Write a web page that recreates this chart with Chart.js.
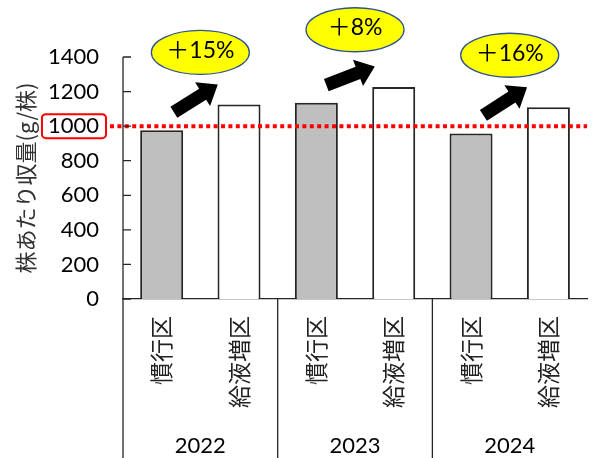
<!DOCTYPE html>
<html lang="ja">
<head>
<meta charset="utf-8">
<script src="https://cdn.jsdelivr.net/npm/chart.js@4/dist/chart.umd.min.js"></script>
<style>
  html, body { margin: 0; padding: 0; background: #fff; }
  #wrap { width: 593px; height: 458px; }
</style>
</head>
<body>
<div id="wrap"><canvas id="yieldChart" width="593" height="458"></canvas></div>
<script>
// 株あたり収量: 慣行区 vs 給液増区 (2022-2024)
const years = ['2022', '2023', '2024'];
const plots = ['慣行区', '給液増区'];
const conventional = [976, 1136, 958];   // 慣行区 g/株
const increased = [1125, 1227, 1110];    // 給液増区 g/株
const increaseLabels = ['＋15%', '＋8%', '＋16%'];
const yTicks = [0, 200, 400, 600, 800, 1000, 1200, 1400];
const targetLine = 1000;

const NUM_FONT = 'Lato, "Liberation Sans", sans-serif';
const JP_FONT = '"Noto Sans CJK JP", sans-serif';
const NUM_SIZE = 22;

// interleave into 6 bars: [慣行, 給液増] per year
const labels = [];
const values = [];
const colors = [];
years.forEach((yr, i) => {
  labels.push(plots[0], plots[1]);
  values.push(conventional[i], increased[i]);
  colors.push('#bfbfbf', '#ffffff');
});

function drawArrow(ctx, cx, cy, angle){
  const L = 52, s = 13, hw = 28, hl = 18;
  ctx.save();
  ctx.translate(cx, cy);
  ctx.rotate(angle);
  ctx.beginPath();
  ctx.moveTo(-L/2, -s/2);
  ctx.lineTo(L/2 - hl, -s/2);
  ctx.lineTo(L/2 - hl, -hw/2);
  ctx.lineTo(L/2, 0);
  ctx.lineTo(L/2 - hl, hw/2);
  ctx.lineTo(L/2 - hl, s/2);
  ctx.lineTo(-L/2, s/2);
  ctx.closePath();
  ctx.fillStyle = '#000';
  ctx.fill();
  ctx.restore();
}

// axis frame: y ticks inside, axis line running down through the label area, year groups
const frame = {
  id: 'frame',
  afterDraw(chart){
    const {ctx, chartArea, scales: {x, y}} = chart;
    const H = chart.height;
    ctx.save();
    ctx.strokeStyle = '#262626';
    ctx.lineWidth = 1.3;

    ctx.beginPath();
    ctx.moveTo(x.left, chartArea.top);
    ctx.lineTo(x.left, H);
    yTicks.forEach(v => {
      const py = y.getPixelForValue(v);
      ctx.moveTo(x.left, py);
      ctx.lineTo(x.left + 8, py);
    });
    // separators between year groups
    for (let g = 1; g < years.length; g++){
      const px = (x.getPixelForValue(g * 2 - 1) + x.getPixelForValue(g * 2)) / 2;
      ctx.moveTo(px, chartArea.bottom);
      ctx.lineTo(px, H);
    }
    ctx.stroke();

    ctx.fillStyle = '#000';
    ctx.font = NUM_SIZE + 'px ' + NUM_FONT;
    ctx.textAlign = 'center';
    ctx.textBaseline = 'middle';
    years.forEach((yr, g) => {
      const px = (x.getPixelForValue(g * 2) + x.getPixelForValue(g * 2 + 1)) / 2;
      ctx.fillText(yr, px, H - 12);
    });
    ctx.restore();
  }
};

// 1000 g reference line, highlighted tick and increase callouts
const callouts = {
  id: 'callouts',
  afterDatasetsDraw(chart){
    const {ctx, chartArea, scales: {x, y}} = chart;
    ctx.save();

    const ty = y.getPixelForValue(targetLine);
    ctx.font = NUM_SIZE + 'px ' + NUM_FONT;
    const labelRight = x.left - 24;
    const w = ctx.measureText(String(targetLine)).width;
    ctx.strokeStyle = '#ff0000';
    ctx.lineWidth = 2;
    ctx.beginPath();
    ctx.roundRect(labelRight - w - 6, ty - 12, w + 13, 24, 4);
    ctx.stroke();

    ctx.lineWidth = 4;
    ctx.setLineDash([4, 3.4]);
    ctx.beginPath();
    ctx.moveTo(labelRight + 11, ty);
    ctx.lineTo(chartArea.right, ty);
    ctx.stroke();
    ctx.setLineDash([]);

    years.forEach((yr, g) => {
      const x0 = x.getPixelForValue(g * 2);
      const x1 = x.getPixelForValue(g * 2 + 1);
      const y0 = y.getPixelForValue(conventional[g]);
      const y1 = y.getPixelForValue(increased[g]);
      const cx = (x0 + x1) / 2;
      const mid = (y0 + y1) / 2;
      const angle = Math.atan2(1.9 * (y1 - y0), x1 - x0);
      drawArrow(ctx, cx - 4.5, mid - 19, angle);

      const ey = mid - 65;
      ctx.beginPath();
      ctx.ellipse(cx, ey, 49, 22, 0, 0, Math.PI * 2);
      ctx.fillStyle = '#ffff00';
      ctx.fill();
      ctx.strokeStyle = '#2f528f';
      ctx.lineWidth = 1.3;
      ctx.stroke();

      ctx.fillStyle = '#000';
      ctx.font = '23px ' + NUM_FONT + ', ' + JP_FONT;
      ctx.textAlign = 'center';
      ctx.textBaseline = 'middle';
      ctx.fillText(increaseLabels[g], cx, ey - 2);
    });
    ctx.restore();
  }
};

new Chart(document.getElementById('yieldChart'), {
  type: 'bar',
  data: {
    labels: labels,
    datasets: [{
      data: values,
      backgroundColor: colors,
      borderColor: '#262626',
      borderWidth: 2,
      barPercentage: 0.556,
      categoryPercentage: 1
    }]
  },
  options: {
    responsive: false,
    devicePixelRatio: 1,
    animation: false,
    layout: {padding: {top: 57, right: 0, bottom: 0, left: 0}},
    plugins: {legend: {display: false}, tooltip: {enabled: false}},
    scales: {
      x: {
        grid: {display: false, drawTicks: false},
        border: {display: true, color: '#262626', width: 1.3},
        ticks: {
          color: '#222',
          font: {family: JP_FONT, size: 23},
          minRotation: 90,
          maxRotation: 90,
          padding: 17,
          autoSkip: false
        },
        afterFit(scale){ scale.height = 159; }
      },
      y: {
        min: 0,
        max: 1400,
        afterBuildTicks(scale){ scale.ticks = yTicks.map(v => ({value: v})); },
        grid: {display: false, drawTicks: false},
        border: {display: false},
        ticks: {
          color: '#000',
          font: {family: NUM_FONT, size: NUM_SIZE},
          padding: 24,
          callback: v => String(v)
        },
        title: {
          display: true,
          text: '株あたり収量(g/株)',
          color: '#333',
          font: {family: JP_FONT, size: 22},
          padding: {top: 12, bottom: 0}
        },
        afterFit(scale){ scale.width = 123; }
      }
    }
  },
  plugins: [frame, callouts]
});
</script>
</body>
</html>
